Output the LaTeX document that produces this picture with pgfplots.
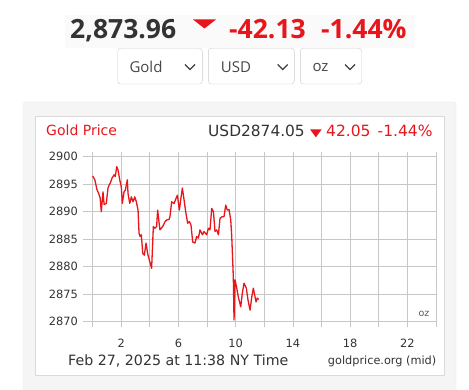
\documentclass[border=0pt]{standalone}
\usepackage{fontspec}
\setmainfont{DejaVu Sans}
\newfontfamily\os{Open Sans}
\usepackage{pgfplots}
\pgfplotsset{compat=1.18}
\definecolor{gpred}{HTML}{E8161B}
\definecolor{txt}{HTML}{333333}
\begin{document}
\begin{tikzpicture}
\begin{scope}[x=1pt,y=-1pt]
\fill[white] (0,0) rectangle (469,390);
% header
\fill[black!2] (65,15) rectangle (415,48);
\node[anchor=base west, font=\os\bfseries\fontsize{26.5}{30}\selectfont, text=txt, inner sep=0] at (70,39) {2,873.96};
\fill[gpred] (193,19.5) -- (216,19.5) -- (204.5,28.5) -- cycle;
\node[anchor=base west, font=\os\bfseries\fontsize{26.5}{30}\selectfont, text=gpred, inner sep=0] at (229,39) {-42.13};
\node[anchor=base west, font=\os\bfseries\fontsize{26.5}{30}\selectfont, text=gpred, inner sep=0] at (321,39) {-1.44\%};
% dropdowns
\draw[black!20, fill=white, rounded corners=3pt] (117.7,48.3) rectangle (202.3,84);
\draw[black!20, fill=white, rounded corners=3pt] (208.3,48.3) rectangle (294.3,84);
\draw[black!20, fill=white, rounded corners=3pt] (300.3,48.3) rectangle (361.7,84);
\node[anchor=west, font=\os\fontsize{15}{18}\selectfont, text=black!72, inner sep=0] at (129.3,67) {Gold};
\node[anchor=west, font=\os\fontsize{15}{18}\selectfont, text=black!72, inner sep=0] at (220.7,67) {USD};
\node[anchor=west, font=\os\fontsize{15}{18}\selectfont, text=black!72, inner sep=0] at (312.3,67) {oz};
\draw[black!75, line width=1.3pt] (185,64.5) -- (190,69.5) -- (195,64.5);
\draw[black!75, line width=1.3pt] (277.7,64.5) -- (282.7,69.5) -- (287.7,64.5);
\draw[black!75, line width=1.3pt] (345,64.5) -- (350,69.5) -- (355,64.5);
% panels
\fill[black!4, draw=black!8, rounded corners=3pt] (23,102) rectangle (456,400);
\fill[white, draw=black!14] (35,116) rectangle (444,375);
% chart header
\node[anchor=base west, text=gpred, font=\fontsize{14}{16}\selectfont, inner sep=0] at (46,136) {Gold Price};
\node[anchor=base east, text=gpred, font=\fontsize{15.5}{17}\selectfont, inner sep=0] at (432.7,137) {-1.44\%};
\node[anchor=base west, text=gpred, font=\fontsize{15.5}{17}\selectfont, inner sep=0] at (326,137) {42.05};
\fill[gpred] (310,129.3) -- (321.7,129.3) -- (315.85,137.3) -- cycle;
\node[anchor=base east, text=txt, font=\fontsize{15.4}{17}\selectfont, inner sep=0] at (305,137) {USD2874.05};
% footer
\node[anchor=base west, text=txt, font=\fontsize{14.2}{16}\selectfont, inner sep=0] at (68,366) {Feb 27, 2025 at 11:38 NY Time};
\node[anchor=base east, text=txt, font=\fontsize{11.3}{13}\selectfont, inner sep=0] at (436.5,365) {goldprice.org (mid)};
\node[text=black!65, font=\fontsize{9.5}{11}\selectfont, inner sep=0] at (424,314) {oz};
\end{scope}
\begin{axis}[
  at={(92.7pt,-321.7pt)}, anchor=south west,
  scale only axis, width=343.3pt, height=165pt,
  xmin=0, xmax=24, ymin=2870, ymax=2900,
  xtick={0,2,...,24}, xticklabels={,2,,6,,10,,14,,18,,22,},
  ytick={2870,2875,...,2900},
  grid=major, major grid style={black!22, line width=0.9pt},
  axis line style={draw=none},
  tick align=outside, major tick length=5pt,
  xtick style={black!22, line width=0.9pt},
  ytick style={draw=none},
  ticklabel style={font=\fontsize{11.4}{13}\selectfont, text=txt},
  xticklabel style={anchor=north, inner sep=0pt, yshift=-12pt},
  yticklabel style={anchor=east, inner sep=0pt, xshift=-9.7pt},
  /pgf/number format/assume math mode=true,
  /pgf/number format/1000 sep={},
  scaled y ticks=false, clip=false,
]
\draw[black!22, line width=0.9pt] (axis cs:0,2870) -- ++(-9.7pt,0pt);
\draw[black!22, line width=0.9pt] (axis cs:0,2875) -- ++(-9.7pt,0pt);
\draw[black!22, line width=0.9pt] (axis cs:0,2880) -- ++(-9.7pt,0pt);
\draw[black!22, line width=0.9pt] (axis cs:0,2885) -- ++(-9.7pt,0pt);
\draw[black!22, line width=0.9pt] (axis cs:0,2890) -- ++(-9.7pt,0pt);
\draw[black!22, line width=0.9pt] (axis cs:0,2895) -- ++(-9.7pt,0pt);
\draw[black!22, line width=0.9pt] (axis cs:0,2900) -- ++(-9.7pt,0pt);
\addplot[gpred, line width=1.3pt, line join=round] coordinates {
(0.00,2896.5) (0.15,2895.8) (0.30,2894.0) (0.42,2893.3) (0.52,2892.5)
(0.60,2890.0) (0.72,2893.6) (0.80,2891.3) (0.95,2891.5) (1.07,2894.3)
(1.16,2894.9) (1.23,2895.2) (1.35,2896.1) (1.49,2896.7) (1.58,2896.4)
(1.68,2898.2) (1.77,2897.6) (1.89,2895.8) (2.00,2894.5) (2.07,2891.5)
(2.19,2893.6) (2.28,2893.9) (2.42,2895.8) (2.47,2893.3) (2.59,2891.5)
(2.70,2892.7) (2.82,2891.8) (2.94,2892.7) (3.05,2891.8) (3.17,2890.3)
(3.24,2886.1) (3.31,2885.5) (3.40,2885.8) (3.50,2882.4) (3.61,2882.1)
(3.73,2884.3) (3.84,2882.4) (3.96,2881.2) (4.12,2879.7) (4.24,2887.3)
(4.35,2887.0) (4.47,2887.3) (4.54,2890.3) (4.70,2886.7) (4.89,2887.3)
(5.06,2888.2) (5.17,2888.5) (5.34,2888.6) (5.40,2889.1) (5.52,2891.8)
(5.69,2891.5) (5.82,2892.4) (5.92,2893.0) (6.06,2890.3) (6.18,2892.7)
(6.27,2894.3) (6.39,2892.1) (6.50,2890.0) (6.64,2887.9) (6.76,2888.2)
(6.87,2887.6) (6.99,2884.5) (7.15,2884.3) (7.27,2885.5) (7.39,2885.2)
(7.50,2886.7) (7.67,2885.8) (7.78,2886.4) (7.97,2885.8) (8.09,2887.0)
(8.20,2886.7) (8.32,2890.6) (8.44,2890.0) (8.55,2886.4) (8.67,2886.7)
(8.79,2885.8) (8.90,2888.8) (9.06,2889.1) (9.18,2889.1) (9.30,2891.2)
(9.41,2890.3) (9.53,2890.4) (9.65,2888.5) (9.72,2885.5) (9.83,2878.2)
(9.88,2870.3) (9.95,2877.6) (10.05,2876.4) (10.18,2874.5) (10.35,2872.7)
(10.46,2875.2) (10.58,2877.0) (10.74,2876.1) (10.86,2873.9) (11.00,2872.1)
(11.12,2874.5) (11.23,2876.1) (11.35,2874.5) (11.42,2873.6) (11.51,2874.3)
(11.60,2874.05)
};
\end{axis}
\pgfresetboundingbox
\path[use as bounding box] (0pt,0pt) rectangle (469pt,-390pt);
\end{tikzpicture}
\end{document}
